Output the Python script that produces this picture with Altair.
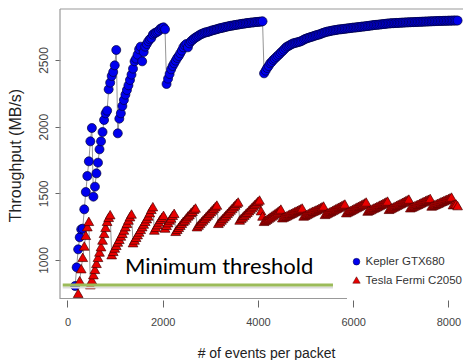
import altair as alt
import pandas as pd

STEP = 32

# Kepler GTX680 (blue circles): segments start x, values every 32 events
blue_starts = [160, 544, 1056, 2080, 4128]
blue_seg1 = [805, 945, 1080, 1170, 1230, 1235, 1380, 1510, 1630, 1740, 1890, 1990]
blue_seg2 = [1475, 1550, 1650, 1730, 1830, 1890, 1960, 2050, 2100, 2120, 2280, 2330,
             2380, 2410, 2460, 2575]
blue_seg3 = [1950, 2060, 2100, 2155, 2200, 2240, 2275, 2310, 2350, 2390, 2435, 2490,
             2510, 2540, 2580, 2600, 2490, 2560, 2600, 2620, 2640, 2655, 2665, 2690,
             2700, 2705, 2712, 2720, 2735, 2740, 2745, 2730]
blue_seg4 = [2320, 2360, 2395, 2430, 2455, 2475, 2495, 2515, 2530, 2550, 2570, 2595,
             2610, 2620, 2595, 2625, 2640, 2650, 2660, 2668, 2675, 2682, 2690, 2695,
             2700, 2705, 2708, 2710, 2714, 2718, 2722, 2725, 2728, 2731, 2735, 2738,
             2740, 2743, 2746, 2749, 2751, 2754, 2756, 2758, 2760, 2762, 2764, 2766,
             2768, 2770, 2772, 2773, 2775, 2777, 2778, 2780, 2781, 2782, 2784, 2785,
             2786, 2787, 2788, 2790]
blue_seg5 = [2400, 2420, 2440, 2455, 2475, 2485, 2500, 2510, 2522, 2532, 2543, 2555,
             2566, 2577, 2590, 2600, 2605, 2612, 2618, 2624, 2627, 2630, 2633, 2636,
             2640, 2645, 2652, 2658, 2662, 2666, 2670, 2673, 2677, 2681, 2685, 2688,
             2691, 2695, 2700, 2704, 2708, 2711, 2714, 2716, 2719, 2721, 2723, 2725,
             2727, 2729, 2730, 2731, 2733, 2734, 2736, 2737, 2739, 2740, 2742, 2743,
             2744, 2745, 2747, 2748, 2750, 2751, 2752, 2754, 2755, 2757, 2758, 2760,
             2762, 2763, 2764, 2765, 2766, 2768, 2769, 2770, 2772, 2773, 2774, 2775,
             2776, 2776, 2777, 2778, 2778, 2779, 2780, 2780, 2781, 2782, 2782, 2783,
             2783, 2784, 2784, 2785, 2785, 2786, 2786, 2787, 2787, 2788, 2788, 2789,
             2789, 2790, 2790, 2791, 2791, 2792, 2792, 2793, 2793, 2793, 2794, 2794,
             2794, 2795, 2795, 2795, 2796, 2796, 2796, 2796]
blue_segs = [blue_seg1, blue_seg2, blue_seg3, blue_seg4, blue_seg5]

# Tesla Fermi C2050 (red triangles): sawtooth teeth
red_starts = [224, 480, 928, 1376, 1824, 2048, 2272, 2720, 3168, 3616, 4064, 4512,
              4960, 5408, 5856, 6304, 6752, 7200, 7648, 8096]
red_teeth = [
    [750, 845, 935, 1020, 1105, 1185, 1250, 1290],
    [815, 850, 890, 930, 975, 1020, 1060, 1100, 1150, 1200, 1245, 1290, 1320, 1340],
    [1040, 1065, 1090, 1110, 1135, 1155, 1180, 1200, 1225, 1250, 1275, 1300, 1325, 1345],
    [1130, 1150, 1170, 1190, 1210, 1230, 1250, 1270, 1290, 1310, 1330, 1355, 1380, 1400],
    [1225, 1245, 1265, 1285, 1305, 1320, 1335],
    [1240, 1260, 1280, 1300, 1315, 1335, 1350],
    [1215, 1230, 1245, 1260, 1275, 1290, 1300, 1315, 1330, 1340, 1355, 1365, 1380, 1390],
    [1250, 1262, 1275, 1288, 1300, 1312, 1325, 1337, 1350, 1362, 1375, 1387, 1400, 1412],
    [1275, 1287, 1300, 1312, 1325, 1337, 1350, 1362, 1375, 1387, 1400, 1412, 1425, 1435],
    [1300, 1312, 1323, 1335, 1347, 1358, 1370, 1382, 1393, 1405, 1417, 1428, 1440, 1450],
    [1370, 1330, 1290, 1298, 1306, 1314, 1322, 1330, 1338, 1346, 1354, 1362, 1372, 1382],
    [1317, 1322, 1328, 1333, 1339, 1345, 1350, 1356, 1362, 1367, 1373, 1379, 1384, 1390],
    [1330, 1336, 1342, 1348, 1354, 1360, 1366, 1370, 1375, 1381, 1387, 1393, 1399, 1405],
    [1342, 1348, 1354, 1360, 1366, 1372, 1378, 1384, 1390, 1396, 1402, 1408, 1414, 1420],
    [1355, 1361, 1367, 1373, 1379, 1385, 1391, 1397, 1403, 1409, 1415, 1421, 1428, 1435],
    [1367, 1373, 1378, 1384, 1390, 1395, 1401, 1406, 1412, 1418, 1424, 1430, 1436, 1442],
    [1380, 1386, 1392, 1398, 1404, 1410, 1416, 1421, 1427, 1433, 1439, 1445, 1451, 1457],
    [1392, 1397, 1402, 1408, 1413, 1418, 1424, 1429, 1435, 1440, 1446, 1451, 1456, 1462],
    [1405, 1410, 1415, 1420, 1425, 1430, 1436, 1441, 1446, 1451, 1456, 1461, 1466, 1472],
    [1415, 1418, 1420, 1408],
]

series_names = ["Kepler GTX680", "Tesla Fermi C2050"]
x_ticks = [0, 2000, 4000, 6000, 8000]
y_ticks = [1000, 1500, 2000, 2500]
threshold_value = 812
threshold_x = [-100, 5575]
threshold_label = "Minimum threshold"
label_x, label_y = 1207, 950

rows = []
for start, seg in zip(blue_starts, blue_segs):
    for i, v in enumerate(seg):
        rows.append({"series": series_names[0], "x": start + STEP * i, "y": v})
for start, seg in zip(red_starts, red_teeth):
    for i, v in enumerate(seg):
        rows.append({"series": series_names[1], "x": start + STEP * i, "y": v})
df = pd.DataFrame(rows)

X_DOM = [-157.5, 8305.5]
Y_DOM = [707.5, 2882.5]
W, H = 403, 290

xs = alt.Scale(domain=X_DOM, nice=False, zero=False)
ys = alt.Scale(domain=Y_DOM, nice=False, zero=False)

x_axis = alt.Axis(values=x_ticks, format="d", domain=False, grid=False, tickSize=7,
                  offset=1, tickColor="#666", labelFont="Liberation Sans",
                  labelFontSize=11, labelColor="#444", labelPadding=9,
                  title="# of events per packet", titleFont="Liberation Sans",
                  titleFontSize=14, titleFontWeight="normal", titleColor="#222",
                  titleX=206, titleY=53, titleAlign="center", titleBaseline="middle")
y_axis = alt.Axis(values=y_ticks, format="d", domain=False, grid=False, tickSize=5,
                  tickColor="#666", labelFont="Liberation Sans", labelFontSize=12,
                  labelColor="#444", labelAngle=270, labelAlign="center",
                  labelBaseline="bottom", labelPadding=5,
                  title="Throughput (MB/s)", titleFont="Liberation Sans",
                  titleFontSize=16, titleFontWeight="normal", titleColor="#222",
                  titleAngle=270, titleX=-45, titleY=146, titleAlign="center",
                  titleBaseline="middle")

one = pd.DataFrame({"a": [0]})

box_top = alt.Chart(one).mark_rule(color="#999", strokeWidth=1.2).encode(
    x=alt.value(0), x2=alt.value(420), y=alt.value(0))
box_left = alt.Chart(one).mark_rule(color="#999", strokeWidth=1.2).encode(
    x=alt.value(0), y=alt.value(0), y2=alt.value(H))
box_bottom = alt.Chart(one).mark_rule(color="#999", strokeWidth=1.2).encode(
    x=alt.value(0), x2=alt.value(287), y=alt.value(H - 0.5))

blue_df = df[df.series == series_names[0]]
red_df = df[df.series == series_names[1]]

blue_line = alt.Chart(blue_df).mark_line(color="#7a7a7a", strokeWidth=0.8).encode(
    x=alt.X("x:Q", scale=xs, axis=x_axis), y=alt.Y("y:Q", scale=ys, axis=y_axis),
    order="x:Q")
blue_pts = alt.Chart(blue_df).mark_point(shape="circle", filled=True, fill="#0000EE",
                                         stroke="#00003a", strokeWidth=0.7, size=81,
                                         opacity=1).encode(
    x=alt.X("x:Q", scale=xs), y=alt.Y("y:Q", scale=ys))
red_line = alt.Chart(red_df).mark_line(color="#7a7a7a", strokeWidth=0.8).encode(
    x=alt.X("x:Q", scale=xs), y=alt.Y("y:Q", scale=ys), order="x:Q")
red_pts = alt.Chart(red_df).mark_point(shape="triangle-up", filled=True, fill="#E80000",
                                       stroke="#4a0000", strokeWidth=0.7, size=95,
                                       opacity=1).encode(
    x=alt.X("x:Q", scale=xs), y=alt.Y("y:Q", scale=ys))

thr_df = pd.DataFrame({"x": [threshold_x[0]], "x2": [threshold_x[1]], "y": [threshold_value]})
thr_shadow = alt.Chart(thr_df).mark_rule(color="#dcdcdc", strokeWidth=2).encode(
    x=alt.X("x:Q", scale=xs), x2="x2:Q", y=alt.Y("y:Q", scale=ys),
    yOffset=alt.value(2.5))
thr_line = alt.Chart(thr_df).mark_rule(color="#9BBB59", strokeWidth=3).encode(
    x=alt.X("x:Q", scale=xs), x2="x2:Q", y=alt.Y("y:Q", scale=ys))

lab_df = pd.DataFrame({"x": [label_x], "y": [label_y], "t": [threshold_label]})
thr_text = alt.Chart(lab_df).mark_text(font="Lato", fontSize=22, align="left",
                                       baseline="middle", color="#000").encode(
    x=alt.X("x:Q", scale=xs), y=alt.Y("y:Q", scale=ys), text="t:N")

leg_df = pd.DataFrame({"t": series_names, "py": [253, 272]})
leg_blue = alt.Chart(leg_df.iloc[[0]]).mark_point(shape="circle", filled=True,
                                                  fill="#0000EE", stroke="#00003a",
                                                  strokeWidth=0.5, size=45, opacity=1).encode(
    x=alt.value(296.5), y=alt.value(252.7))
leg_red = alt.Chart(leg_df.iloc[[1]]).mark_point(shape="triangle-up", filled=True,
                                                 fill="#E80000", stroke="#4a0000",
                                                 strokeWidth=0.5, size=55, opacity=1).encode(
    x=alt.value(296.5), y=alt.value(271))
leg_text = alt.Chart(leg_df).mark_text(font="Liberation Sans", fontSize=11.5, align="left",
                                       baseline="middle", color="#333").encode(
    x=alt.value(305.5), y=alt.Y("py:Q", scale=None), text="t:N")

chart = alt.layer(
    box_top, box_left, box_bottom,
    blue_line, blue_pts, red_line, red_pts,
    thr_shadow, thr_line, thr_text,
    leg_blue, leg_red, leg_text,
).properties(
    width=W, height=H,
    padding={"left": 52, "top": 1, "right": 0, "bottom": 61},
    autosize=alt.AutoSizeParams(type="none"),
    background="white",
).configure_view(stroke=None)

chart.save("out.html", embed_options={"renderer": "svg", "actions": False})
